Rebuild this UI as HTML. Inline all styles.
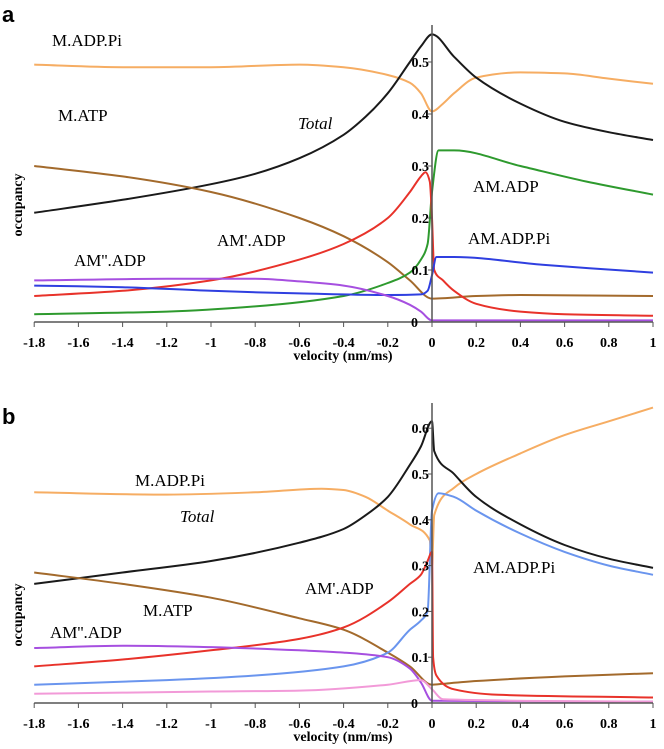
<!DOCTYPE html>
<html><head><meta charset="utf-8"><style>
html,body{margin:0;padding:0;background:#fff;}
svg{display:block;font-family:"Liberation Serif",serif;}
.tk{font-weight:bold;font-size:14px;}
.lb{font-size:17px;}
</style></head><body>
<svg id="chart" width="664" height="749" viewBox="0 0 664 749" xmlns="http://www.w3.org/2000/svg"></svg>
<script>
const xTicks=[-1.8,-1.6,-1.4,-1.2,-1,-0.8,-0.6,-0.4,-0.2,0,0.2,0.4,0.6,0.8,1];
const aYTicks=[0,0.1,0.2,0.3,0.4,0.5];
const bYTicks=[0,0.1,0.2,0.3,0.4,0.5,0.6];
// panel a
const aMADPPi=[[-1.8,0.495],[-1.4,0.49],[-1,0.49],[-0.6,0.495],[-0.4,0.49],[-0.2,0.475],[-0.1,0.46],[-0.05,0.44],[0,0.405],[0.05,0.42],[0.1,0.44],[0.2,0.47],[0.4,0.48],[0.6,0.478],[0.8,0.468],[1,0.458]];
const aTotal=[[-1.8,0.21],[-1.4,0.235],[-1,0.265],[-0.8,0.285],[-0.6,0.315],[-0.4,0.36],[-0.3,0.395],[-0.2,0.44],[-0.1,0.5],[-0.05,0.53],[0,0.553],[0.1,0.51],[0.2,0.47],[0.4,0.42],[0.6,0.385],[0.8,0.365],[1,0.35]];
const aMATP=[[-1.8,0.3],[-1.4,0.28],[-1,0.25],[-0.6,0.2],[-0.4,0.165],[-0.2,0.115],[-0.1,0.08],[0,0.045],[0.2,0.05],[0.4,0.052],[1,0.05]];
const aAMADP=[[-1.8,0.015],[-1.2,0.02],[-0.8,0.03],[-0.4,0.05],[-0.2,0.075],[-0.1,0.095],[-0.05,0.12],[-0.02,0.15],[0,0.25],[0.03,0.33],[0.1,0.33],[0.4,0.3],[0.7,0.27],[1,0.245]];
const aAMpADP=[[-1.8,0.05],[-1.4,0.06],[-1,0.08],[-0.6,0.12],[-0.4,0.15],[-0.2,0.2],[-0.1,0.25],[-0.05,0.28],[-0.03,0.288],[-0.01,0.27],[0,0.2],[0.01,0.1],[0.05,0.08],[0.1,0.06],[0.2,0.035],[0.4,0.02],[0.6,0.015],[1,0.012]];
const aAMADPPi=[[-1.8,0.07],[-1.4,0.067],[-1,0.06],[-0.6,0.055],[-0.2,0.052],[-0.05,0.053],[-0.02,0.06],[0,0.09],[0.02,0.125],[0.1,0.125],[0.5,0.11],[1,0.095]];
const aAMppADP=[[-1.8,0.08],[-1.2,0.083],[-0.8,0.083],[-0.6,0.078],[-0.4,0.07],[-0.2,0.05],[-0.1,0.033],[-0.05,0.02],[0,0.003],[1,0.003]];
// panel b
const bMADPPi=[[-1.8,0.46],[-1.2,0.455],[-0.8,0.46],[-0.5,0.468],[-0.4,0.465],[-0.3,0.45],[-0.2,0.42],[-0.1,0.39],[-0.01,0.355],[0,0.3],[0.01,0.41],[0.1,0.47],[0.2,0.5],[0.4,0.545],[0.6,0.585],[0.8,0.615],[1,0.645]];
const bTotal=[[-1.8,0.26],[-1.4,0.285],[-1,0.31],[-0.6,0.35],[-0.4,0.38],[-0.3,0.41],[-0.2,0.45],[-0.1,0.52],[-0.05,0.56],[0,0.615],[0.01,0.55],[0.1,0.5],[0.2,0.45],[0.4,0.39],[0.6,0.345],[0.8,0.315],[1,0.295]];
const bAMADPPi=[[-1.8,0.04],[-1.2,0.05],[-0.8,0.06],[-0.4,0.08],[-0.2,0.11],[-0.1,0.16],[-0.05,0.18],[-0.02,0.2],[0,0.42],[0.03,0.458],[0.1,0.45],[0.2,0.42],[0.4,0.37],[0.6,0.33],[0.8,0.3],[1,0.28]];
const bAMpADP=[[-1.8,0.08],[-1.4,0.095],[-1,0.115],[-0.6,0.14],[-0.4,0.165],[-0.2,0.22],[-0.1,0.26],[-0.05,0.28],[-0.02,0.31],[0,0.33],[0.005,0.1],[0.02,0.06],[0.1,0.03],[0.3,0.018],[1,0.012]];
const bMATP=[[-1.8,0.285],[-1.4,0.26],[-1,0.23],[-0.6,0.185],[-0.4,0.16],[-0.2,0.11],[-0.1,0.08],[0,0.04],[0.05,0.042],[0.2,0.048],[0.6,0.058],[1,0.065]];
const bAMppADP=[[-1.8,0.12],[-1.4,0.125],[-1,0.122],[-0.6,0.115],[-0.4,0.11],[-0.2,0.1],[-0.1,0.075],[-0.05,0.045],[0,0.005],[1,0.003]];
const bPink=[[-1.8,0.02],[-1,0.025],[-0.6,0.027],[-0.2,0.04],[-0.05,0.05],[0,0.03],[0.05,0.008],[1,0.003]];

const NS="http://www.w3.org/2000/svg";
const svg=document.getElementById('chart');
function mk(tag,attrs,parent){const e=document.createElementNS(NS,tag);for(const k in attrs)e.setAttribute(k,attrs[k]);(parent||svg).appendChild(e);return e;}
const xS=v=>432+v*221;

// monotone cubic path (no overshoot)
function monoPath(P){
  const n=P.length;if(n<2)return '';
  const dx=[],m=[],t=new Array(n);
  for(let i=0;i<n-1;i++){dx.push(P[i+1][0]-P[i][0]);m.push((P[i+1][1]-P[i][1])/dx[i]);}
  t[0]=m[0];t[n-1]=m[n-2];
  for(let i=1;i<n-1;i++){
    if(m[i-1]*m[i]<=0)t[i]=0;
    else{const w1=2*dx[i]+dx[i-1],w2=dx[i]+2*dx[i-1];t[i]=(w1+w2)/(w1/m[i-1]+w2/m[i]);}
  }
  let d='M'+P[0][0].toFixed(1)+','+P[0][1].toFixed(1);
  for(let i=0;i<n-1;i++){
    const h=dx[i]/3;
    d+=' C'+(P[i][0]+h).toFixed(1)+','+(P[i][1]+t[i]*h).toFixed(1)+' '+(P[i+1][0]-h).toFixed(1)+','+(P[i+1][1]-t[i+1]*h).toFixed(1)+' '+P[i+1][0].toFixed(1)+','+P[i+1][1].toFixed(1);
  }
  return d;
}

function panel(id,y0,perUnit,yTop,yTicks,series,labels,letter,letterY,yTitleY){
  const g=mk('g',{});
  
  
  const yS=v=>y0-v*perUnit;
  const t=mk('text',{x:2,y:letterY,'font-family':'Liberation Sans, sans-serif','font-weight':'bold','font-size':'22'},g);
  t.textContent=letter;
  
  
  series.forEach(s=>{
    const pts=s.d.map(d=>[xS(d[0]),yS(d[1])]);
    const p=mk('path',{d:monoPath(pts),fill:'none',stroke:s.c,'stroke-width':2,'stroke-linejoin':'round'},g);
    
    
  });
  const xa=mk('line',{x1:xS(-1.8),x2:xS(1),y1:y0,y2:y0,stroke:'#555','stroke-width':1.5},g);
  
  
  const ya=mk('line',{x1:432,x2:432,y1:yTop,y2:y0,stroke:'#555','stroke-width':1.5},g);
  
  
  xTicks.forEach(v=>{
    mk('line',{x1:xS(v),x2:xS(v),y1:y0,y2:y0+5,stroke:'#555','stroke-width':1},g);
    const tx=mk('text',{x:xS(v),y:y0+25,'text-anchor':'middle',class:'tk'},g);
    tx.textContent=String(v);
    
    
  });
  yTicks.forEach(v=>{
    mk('line',{x1:428,x2:432,y1:yS(v),y2:yS(v),stroke:'#555','stroke-width':1},g);
    const ty=mk('text',{x:v===0?418:429,y:yS(v)+5,'text-anchor':'end',class:'tk'},g);
    ty.textContent=String(v);
    
    
  });
  const xt=mk('text',{x:343,y:y0+38,'text-anchor':'middle',class:'tk'},g);
  xt.textContent='velocity (nm/ms)';
  
  
  const yt=mk('text',{x:0,y:0,'text-anchor':'middle',class:'tk',transform:'translate(22,'+yTitleY+') rotate(-90)'},g);
  yt.textContent='occupancy';
  
  
  labels.forEach(l=>{
    const e=mk('text',{x:l[1],y:l[2]+6,class:'lb'},g);
    if(l[3])e.setAttribute('font-style','italic');
    e.textContent=l[0];
    
    
  });
}
panel('a',322,520,25,aYTicks,[
 {n:'m-adp-pi',c:'#f6ad63',d:aMADPPi},{n:'total',c:'#1a1a1a',d:aTotal},{n:'m-atp',c:'#a36a2c',d:aMATP},
 {n:'am-adp',c:'#2e9a2e',d:aAMADP},{n:'am-prime-adp',c:'#e8322a',d:aAMpADP},{n:'am-adp-pi',c:'#2f3fe0',d:aAMADPPi},{n:'am-dprime-adp',c:'#a64fe0',d:aAMppADP}
],[['M.ADP.Pi',52,40],['Total',298,123,true],['M.ATP',58,115],['AM.ADP',473,186],["AM'.ADP",217,240],["AM''.ADP",74,260],['AM.ADP.Pi',468,238]],'a',22,205);
panel('b',703,458,403,bYTicks,[
 {n:'m-adp-pi',c:'#f6ad63',d:bMADPPi},{n:'total',c:'#1a1a1a',d:bTotal},{n:'m-atp',c:'#a36a2c',d:bMATP},
 {n:'am-adp-pi',c:'#6a95ee',d:bAMADPPi},{n:'am-prime-adp',c:'#e8322a',d:bAMpADP},{n:'am-dprime-adp',c:'#a64fe0',d:bAMppADP},{n:'pink',c:'#f29ad8',d:bPink}
],[['M.ADP.Pi',135,480],['Total',180,516,true],['AM.ADP.Pi',473,567],["AM'.ADP",305,588],['M.ATP',143,610],["AM''.ADP",50,632]],'b',424,615);
</script>
</body></html>
